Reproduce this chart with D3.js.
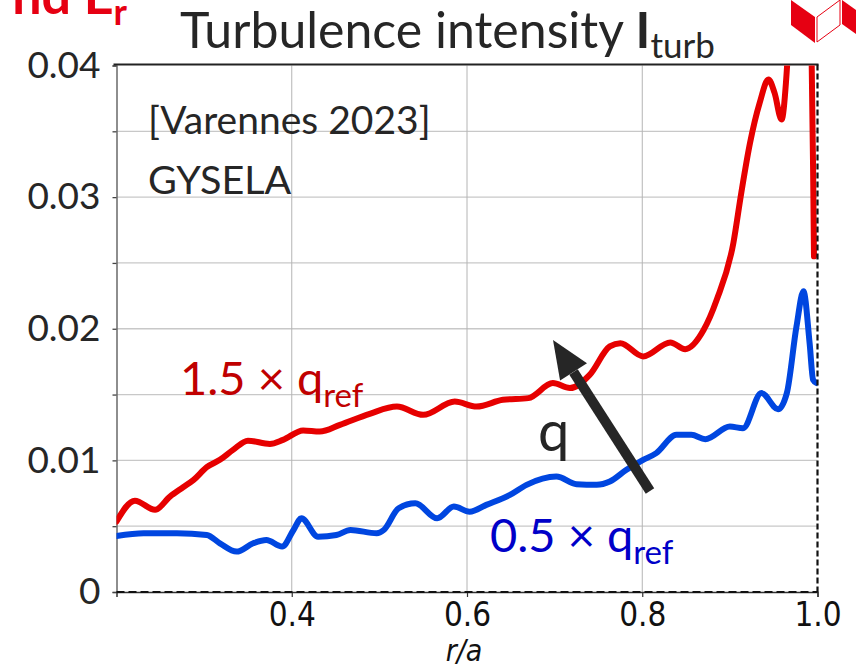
<!DOCTYPE html>
<html><head><meta charset="utf-8">
<script src="https://cdn.jsdelivr.net/npm/d3@7/dist/d3.min.js"></script>
<style>
html,body{margin:0;padding:0;background:#fff;}
svg{display:block;}
</style></head>
<body>
<svg id="c" width="856" height="669"></svg>
<script>
// ---- data ----
const redR = [0.2,0.221,0.244,0.261,0.276,0.288,0.303,0.318,0.333,0.350,0.375,0.390,0.413,0.432,0.455,0.489,0.520,0.550,0.586,0.611,0.641,0.670,0.698,0.7175,0.740,0.763,0.775,0.801,0.832,0.849,0.870,0.885,0.904,0.913,0.923,0.934,0.944,0.951,0.959,0.964,0.967,0.972,0.988,0.993,0.995,0.996];
const redV = [0.00535,0.00694,0.00624,0.00725,0.00796,0.00852,0.00948,0.01004,0.0108,0.0115,0.01125,0.01156,0.01227,0.01219,0.0127,0.01354,0.01409,0.01346,0.01447,0.01409,0.0146,0.01473,0.01587,0.01549,0.0165,0.01866,0.0189,0.0179,0.01896,0.01845,0.0199,0.0222,0.02652,0.03032,0.03412,0.03716,0.03894,0.03792,0.03589,0.0387,0.0420,0.0500,0.0500,0.0420,0.0320,0.0255];
const blueR = [0.2,0.231,0.269,0.303,0.318,0.337,0.356,0.371,0.389,0.402,0.411,0.430,0.451,0.467,0.497,0.505,0.522,0.541,0.566,0.585,0.603,0.622,0.649,0.668,0.702,0.725,0.748,0.763,0.782,0.800,0.816,0.839,0.856,0.872,0.900,0.915,0.936,0.955,0.965,0.976,0.984,0.991,0.995,0.999];
const blueV = [0.00426,0.00446,0.00446,0.00433,0.0037,0.00307,0.0037,0.00395,0.00345,0.00471,0.0056,0.0042,0.00433,0.00471,0.00446,0.00471,0.00636,0.00674,0.0056,0.00649,0.0061,0.00662,0.00738,0.00814,0.00877,0.00819,0.00814,0.00839,0.00928,0.0100,0.01055,0.01194,0.01194,0.01161,0.01257,0.01245,0.01511,0.01389,0.01511,0.02017,0.02284,0.01891,0.01612,0.01587];
const xTicks = [0.4, 0.6, 0.8, 1.0];
const yTicks = [0, 0.005, 0.01, 0.015, 0.02, 0.025, 0.03, 0.035, 0.04];
const yLabels = {"0":"0","0.01":"0.01","0.02":"0.02","0.03":"0.03","0.04":"0.04"};
const xGrid = [0.4, 0.6, 0.8];

const svg = d3.select("#c");
const L = 116.5, R = 817.5, T = 65.5, B = 592;
const x = d3.scaleLinear().domain([0.2, 1.0]).range([L, R]);
const y = d3.scaleLinear().domain([0, 0.04]).range([B, T]);

const slideFont = "Lato, 'Open Sans', sans-serif";
const plotFont = "'DejaVu Sans Condensed','DejaVu Sans',sans-serif";

// clip
svg.append("defs").append("clipPath").attr("id","clip")
  .append("rect").attr("x",L).attr("y",T).attr("width",R-L).attr("height",B-T);

// grid
svg.append("g").selectAll("line").data(yTicks.filter(d=>d>0 && d<0.04)).join("line")
  .attr("x1",L).attr("x2",R).attr("y1",d=>y(d)).attr("y2",d=>y(d))
  .attr("stroke","#c8c8c8").attr("stroke-width",1.3);
svg.append("g").selectAll("line").data(xGrid).join("line")
  .attr("x1",d=>x(d)).attr("x2",d=>x(d)).attr("y1",T).attr("y2",B)
  .attr("stroke","#b4b4b4").attr("stroke-width",1);

// left axis
const yAxis = d3.axisLeft(y).tickValues(yTicks).tickSize(4).tickPadding(12)
  .tickFormat(d => yLabels[String(d)] || "");
const gy = svg.append("g").attr("transform",`translate(${L},0)`).call(yAxis);
gy.select(".domain").attr("stroke","#6a6a6a").attr("stroke-width",1.5);
gy.selectAll(".tick line").attr("stroke","#444").attr("stroke-width",1.3);
gy.selectAll("text").attr("font-family",slideFont).attr("font-size",37).attr("fill","#262626");

// bottom axis
const xAxis = d3.axisBottom(x).tickValues(xTicks).tickSize(5).tickPadding(6).tickFormat(d3.format(".1f"));
const gx = svg.append("g").attr("transform",`translate(0,${B})`).call(xAxis);
gx.select(".domain").attr("stroke","#333").attr("stroke-width",1.5);
gx.selectAll(".tick line").attr("stroke","#333").attr("stroke-width",1.2);
gx.selectAll("text").attr("font-family",plotFont).attr("font-size",33).attr("fill","#111");

// frame: top solid
svg.append("line").attr("x1",L-3).attr("x2",R+1).attr("y1",T-1).attr("y2",T-1)
  .attr("stroke","#222").attr("stroke-width",2);

// lines
const line = d3.line().x(d=>x(d[0])).y(d=>y(d[1])).curve(d3.curveMonotoneX);
const plot = svg.append("g").attr("clip-path","url(#clip)");
plot.append("path").datum(blueR.map((r,i)=>[r,blueV[i]]))
  .attr("d",line).attr("fill","none").attr("stroke","#0046e0").attr("stroke-width",6)
  .attr("stroke-linejoin","round").attr("stroke-linecap","round");
plot.append("path").datum(redR.map((r,i)=>[r,redV[i]]))
  .attr("d",line).attr("fill","none").attr("stroke","#e60000").attr("stroke-width",6)
  .attr("stroke-linejoin","round").attr("stroke-linecap","round");

// right & bottom dashed frame
svg.append("line").attr("x1",R).attr("x2",R).attr("y1",T-1).attr("y2",B)
  .attr("stroke","#111").attr("stroke-width",2.2).attr("stroke-dasharray","6,3");
svg.append("line").attr("x1",L).attr("x2",R).attr("y1",B).attr("y2",B)
  .attr("stroke","#111").attr("stroke-width",2).attr("stroke-dasharray","8,4");

// x label
svg.append("text").attr("x",(L+R)/2-3).attr("y",661).attr("text-anchor","middle")
  .attr("font-family",plotFont).attr("font-size",30)
  .attr("font-style","italic").attr("fill","#111").text("r/a");

// title
const title = svg.append("text").attr("x",180).attr("y",48).attr("font-family",slideFont)
  .attr("font-size",50).attr("fill","#262626");
title.append("tspan").text("Turbulence intensity ");
title.append("tspan").attr("font-weight","bold").text("I");
title.append("tspan").attr("font-size",35).attr("dy",10).text("turb");

// annotations
svg.append("text").attr("x",148).attr("y",134).attr("font-family",slideFont)
  .attr("font-size",39).attr("fill","#262626").text("[Varennes 2023]");
svg.append("text").attr("x",148).attr("y",194).attr("font-family",slideFont)
  .attr("font-size",39.5).attr("fill","#262626").text("GYSELA");

const t1 = svg.append("text").attr("x",180).attr("y",395).attr("font-family",slideFont)
  .attr("font-size",47).attr("fill","#c00000");
t1.append("tspan").text("1.5 × q");
t1.append("tspan").attr("font-size",33).attr("dy",12).text("ref");

const t2 = svg.append("text").attr("x",490).attr("y",552).attr("font-family",slideFont)
  .attr("font-size",47).attr("fill","#0000c8");
t2.append("tspan").text("0.5 × q");
t2.append("tspan").attr("font-size",33).attr("dy",12).text("ref");

svg.append("text").attr("x",538).attr("y",451).attr("font-family",slideFont)
  .attr("font-size",56).attr("fill","#262626").text("q");

// arrow
const ax0 = 650, ay0 = 491, ax1 = 553, ay1 = 340;
const ang = Math.atan2(ay1-ay0, ax1-ax0);
const hl = 38, hw = 16;
const bx = ax1 - hl*Math.cos(ang), by = ay1 - hl*Math.sin(ang);
svg.append("line").attr("x1",ax0).attr("y1",ay0).attr("x2",bx).attr("y2",by)
  .attr("stroke","#262626").attr("stroke-width",10);
svg.append("path").attr("d",`M${ax1},${ay1} L${bx+hw*Math.sin(ang)},${by-hw*Math.cos(ang)} L${bx-hw*Math.sin(ang)},${by+hw*Math.cos(ang)} Z`)
  .attr("fill","#262626");

// slide fragment (top-left), partly outside the picture as in the reference
const frag = svg.append("text").attr("x",127).attr("y",14).attr("text-anchor","end")
  .attr("font-family",slideFont).attr("font-weight","bold").attr("font-size",52).attr("fill","#e60012");
frag.append("tspan").text("nd E");
frag.append("tspan").attr("font-size",36).attr("dy",11).text("r");

// logo fragment (top-right)
svg.append("path").attr("d","M791,0 L815,17 L815,43 L791,25 Z").attr("fill","#e60012");
svg.append("path").attr("d","M817,17 L840,0 L840,25 L817,42 Z").attr("fill","#fff").attr("stroke","#e60012").attr("stroke-width",1);
svg.append("path").attr("d","M842,0 L856,10 L856,34 L842,24 Z").attr("fill","#e60012");
</script>
</body></html>
